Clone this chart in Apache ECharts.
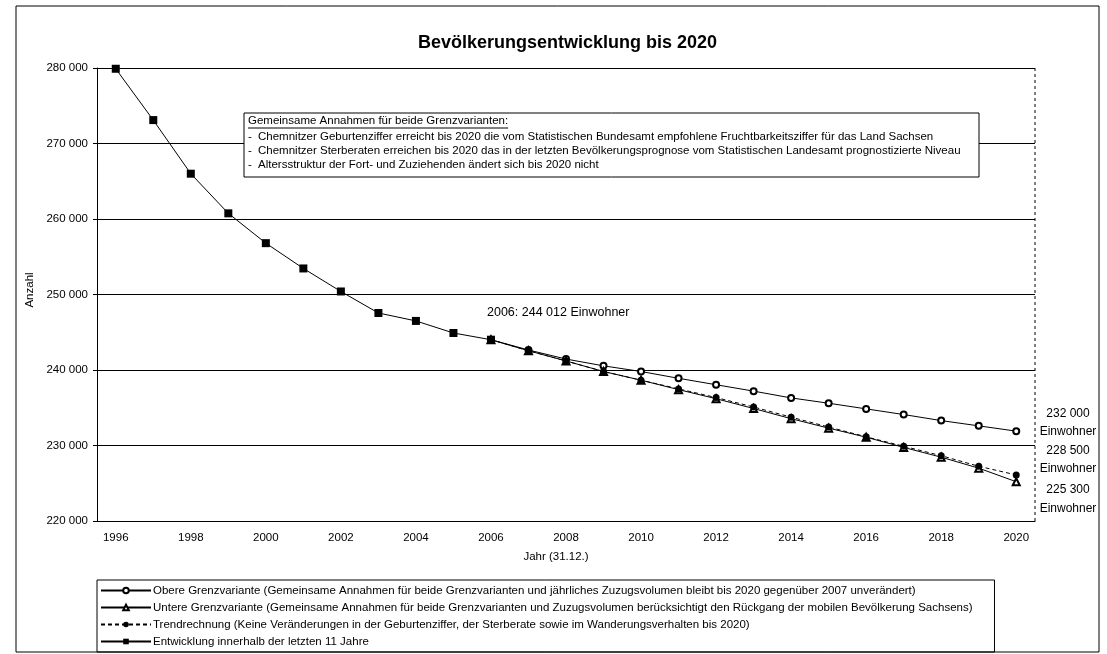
<!DOCTYPE html>
<html><head><meta charset="utf-8">
<script src="https://cdn.jsdelivr.net/npm/echarts@6/dist/echarts.min.js"></script>
<style>html,body{margin:0;padding:0;background:#fff}#c{width:1107px;height:654px}</style>
</head><body><div id="c"></div>
<script>
const years = ['1996','1997','1998','1999','2000','2001','2002','2003','2004','2005','2006','2007','2008','2009','2010','2011','2012','2013','2014','2015','2016','2017','2018','2019','2020'];
// Entwicklung 1996-2006
const historic = [279900, 273100, 266000, 260750, 256800, 253450, 250400, 247550, 246500, 244900, 244012];
// Prognosen 2006-2020
const obere  = [244012, 242650, 241450, 240550, 239800, 238900, 238050, 237200, 236300, 235600, 234850, 234100, 233300, 232600, 231900];
const untere = [244012, 242550, 241200, 239800, 238650, 237400, 236200, 234900, 233550, 232300, 231100, 229750, 228450, 227000, 225200];
const trend  = [244012, 242550, 241200, 239800, 238650, 237500, 236350, 235100, 233750, 232450, 231150, 229900, 228650, 227250, 226100];
const seriesNames = [
  'Obere Grenzvariante (Gemeinsame Annahmen für beide Grenzvarianten und jährliches Zuzugsvolumen bleibt bis 2020 gegenüber 2007 unverändert)',
  'Untere Grenzvariante (Gemeinsame Annahmen für beide Grenzvarianten und Zuzugsvolumen berücksichtigt den Rückgang der mobilen Bevölkerung Sachsens)',
  'Trendrechnung (Keine Veränderungen in der Geburtenziffer, der Sterberate sowie im Wanderungsverhalten bis 2020)',
  'Entwicklung innerhalb der letzten 11 Jahre'
];
const titleText = 'Bevölkerungsentwicklung bis 2020';
const noteHeading = 'Gemeinsame Annahmen für beide Grenzvarianten:';
const noteLines = [
  'Chemnitzer Geburtenziffer erreicht bis 2020 die vom Statistischen Bundesamt empfohlene Fruchtbarkeitsziffer für das Land Sachsen',
  'Chemnitzer Sterberaten erreichen bis 2020 das in der letzten Bevölkerungsprognose vom Statistischen Landesamt prognostizierte Niveau',
  'Altersstruktur der Fort- und Zuziehenden ändert sich bis 2020 nicht'
];
const markerText = '2006: 244 012 Einwohner';
const endLabels = ['232 000', 'Einwohner', '228 500', 'Einwohner', '225 300', 'Einwohner'];
const yAxisName = 'Anzahl';
const xAxisName = 'Jahr (31.12.)';

const FF = '"Liberation Sans", Arial, sans-serif';
const offset = years.length - obere.length;
const pad = n => new Array(n).fill('-');

const cv = document.createElement('canvas').getContext('2d');
cv.font = '11.5px "Liberation Sans"';
const headW = cv.measureText(noteHeading).width;

const chart = echarts.init(document.getElementById('c'));
const graphic = [
  {type:'rect', shape:{x:16,y:6,width:1083,height:646}, style:{fill:'none',stroke:'#000',lineWidth:1}, silent:true},
  {type:'line', shape:{x1:1035,y1:68,x2:1035,y2:521}, style:{stroke:'#000',lineWidth:1,lineDash:[3,3]}, silent:true},
  {type:'rect', z:50, shape:{x:244,y:113,width:735,height:64}, style:{fill:'#fff',stroke:'#000',lineWidth:1}},
  {type:'text', z:51, x:248, y:121, style:{text:noteHeading, font:'11.5px '+FF, fill:'#000', verticalAlign:'middle'}},
  {type:'line', z:51, shape:{x1:248,y1:128,x2:248+headW,y2:128}, style:{stroke:'#000',lineWidth:1}},
  {type:'text', z:51, x:556, y:557, style:{text:xAxisName, font:'11.5px '+FF, fill:'#000', align:'center', verticalAlign:'middle'}},
  {type:'text', z:51, x:30, y:290, rotation:Math.PI/2, style:{text:yAxisName, font:'11.5px '+FF, fill:'#000', align:'center', verticalAlign:'middle'}},
  {type:'text', z:51, x:487, y:313, style:{text:markerText, font:'12.5px '+FF, fill:'#000', verticalAlign:'middle'}}
];
noteLines.forEach((t,i)=>{
  const y = 137 + i*14;
  graphic.push({type:'text', z:51, x:248, y:y, style:{text:'-', font:'11.5px '+FF, fill:'#000', verticalAlign:'middle'}});
  graphic.push({type:'text', z:51, x:258, y:y, style:{text:t, font:'11.5px '+FF, fill:'#000', verticalAlign:'middle'}});
});
const endY = [414, 432, 451, 469, 490, 509];
endLabels.forEach((t,i)=>{
  graphic.push({type:'text', z:51, x:1068, y:endY[i], style:{text:t, font:'12px '+FF, fill:'#000', align:'center', verticalAlign:'middle'}});
});

const lineBase = {type:'line', smooth:false, animation:false};
chart.setOption({
  animation:false,
  textStyle:{fontFamily:FF, color:'#000'},
  title:{text:titleText, left:413, top:29, textStyle:{fontSize:18, fontWeight:'bold', color:'#000', fontFamily:FF}},
  grid:{left:97, right:72, top:68, bottom:133},
  legend:{
    orient:'vertical', left:97, top:580, padding:[4,22,4,3],
    borderColor:'#000', borderWidth:1, itemWidth:50, itemHeight:7, itemGap:4,
    data:seriesNames.slice(),
    textStyle:{fontSize:11.5, color:'#000', fontFamily:FF, lineHeight:13, padding:[0,0,0,-3]}
  },
  xAxis:{
    type:'category', data:years, boundaryGap:true,
    axisLine:{lineStyle:{color:'#000',width:1}},
    axisTick:{interval:0, length:4, lineStyle:{color:'#000'}},
    axisLabel:{interval:1, color:'#000', fontSize:11.5, margin:11, fontFamily:FF}
  },
  yAxis:{
    type:'value', min:220000, max:280000, interval:10000,
    axisLine:{show:true, lineStyle:{color:'#000',width:1}},
    axisTick:{show:true, length:4, lineStyle:{color:'#000'}},
    axisLabel:{color:'#000', fontSize:11.5, margin:9, fontFamily:FF,
      formatter:v=>String(v).replace(/\B(?=(\d{3})+(?!\d))/g,' ')},
    splitLine:{show:true, lineStyle:{color:'#000',width:1}}
  },
  graphic:graphic,
  series:[
    Object.assign({}, lineBase, {name:seriesNames[0], data:pad(offset).concat(obere),
      symbol:'emptyCircle', symbolSize:6, z:3,
      lineStyle:{color:'#000',width:1}, itemStyle:{color:'#000',borderColor:'#000',borderWidth:1}}),
    Object.assign({}, lineBase, {name:seriesNames[1], data:pad(offset).concat(untere),
      symbol:'emptyTriangle', symbolSize:7, z:3,
      lineStyle:{color:'#000',width:1}, itemStyle:{color:'#000',borderColor:'#000',borderWidth:1}}),
    Object.assign({}, lineBase, {name:seriesNames[2], data:pad(offset).concat(trend),
      symbol:'circle', symbolSize:7, z:4,
      lineStyle:{color:'#000',width:1,type:[4,3]}, itemStyle:{color:'#000'}}),
    Object.assign({}, lineBase, {name:seriesNames[3], data:historic.concat(pad(years.length-historic.length)),
      symbol:'rect', symbolSize:8, z:5,
      lineStyle:{color:'#000',width:1}, itemStyle:{color:'#000'}})
  ]
});
</script></body></html>
